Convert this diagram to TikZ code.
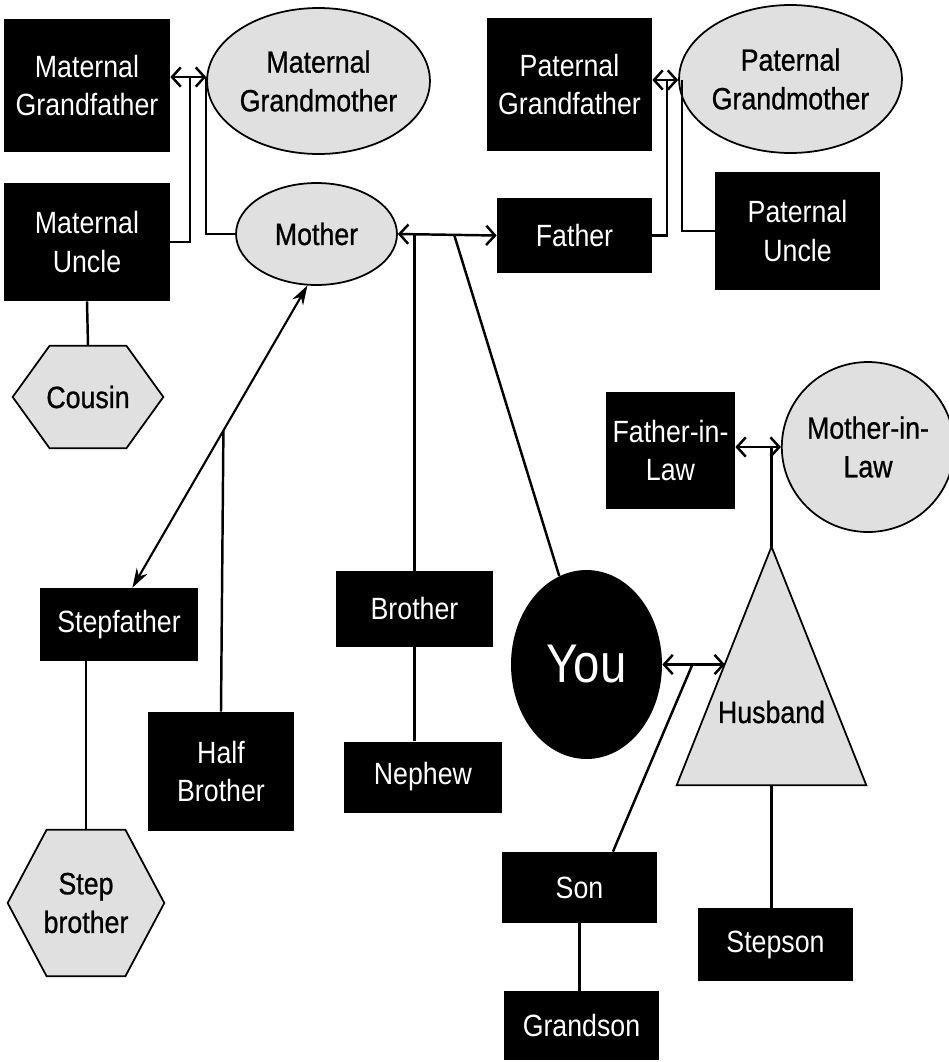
\documentclass[tikz,border=0pt]{standalone}
\usepackage{fontspec}
\setmainfont{Liberation Sans}[FakeStretch=0.87]
\newfontfamily\heavyfont{Liberation Sans}[FakeStretch=0.87, FakeBold=0.8]
\usetikzlibrary{shapes.geometric,arrows.meta,backgrounds}

\newcommand{\famfont}{\fontsize{17.5pt}{22pt}\selectfont}

\tikzset{
    box/.style={fill=black, text=white, align=center, inner sep=0pt, font=\famfont},
    oval/.style={ellipse, draw=black, line width=1pt, fill=black!12, align=center, inner sep=0pt, font=\heavyfont\famfont},
    hexbox/.style={align=center, inner sep=0pt, font=\heavyfont\famfont},
    grayfill/.style={draw=black, line width=1pt, fill=black!12},
    link/.style={line width=1.4pt},
    pair/.style={link, {Straight Barb[length=5pt,width=11pt]}-{Straight Barb[length=5pt,width=11pt]}},
    steparrow/.style={line width=1.2pt, {Stealth[length=11pt,width=7pt]}-{Stealth[length=11pt,width=7pt]}}
}

\begin{document}
\begin{tikzpicture}[x=0.02cm, y=-0.02cm]
    \useasboundingbox (0,0) rectangle (949,1062);

    % Maternal side
    \node[box, minimum width=3.32cm, minimum height=2.66cm] (mgf) at (87,85.5) {Maternal\\Grandfather};
    \node[oval, minimum width=3.66cm, minimum height=2.92cm] (mgm) at (318.5,81) {Maternal\\Grandmother};
    \node[box, minimum width=3.32cm, minimum height=2.36cm] (mu) at (87,242) {Maternal\\Uncle};
    \node[oval, minimum width=3.22cm, minimum height=2.04cm] (mother) at (316.5,234) {Mother};
    \node[hexbox, minimum width=3cm, minimum height=2.04cm] (cousin) at (88,397) {Cousin};

    % Paternal side
    \node[box, minimum width=3.30cm, minimum height=2.66cm] (pgf) at (569.5,84.5) {Paternal\\Grandfather};
    \node[oval, minimum width=3.70cm, minimum height=2.96cm] (pgm) at (790.5,79) {Paternal\\Grandmother};
    \node[box, minimum width=3.10cm, minimum height=1.50cm] (father) at (574.5,235.5) {Father};
    \node[box, minimum width=3.30cm, minimum height=2.36cm] (pu) at (797.5,231) {Paternal\\Uncle};

    % Siblings and step family
    \node[box, minimum width=3.14cm, minimum height=1.52cm] (bro) at (414.5,609) {Brother};
    \node[box, minimum width=3.16cm, minimum height=1.42cm] (neph) at (423,777) {Nephew};
    \node[box, minimum width=3.16cm, minimum height=1.46cm] (stepf) at (119,624.5) {Stepfather};
    \node[box, minimum width=2.92cm, minimum height=2.38cm] (halfbro) at (221,771.5) {Half\\Brother};
    \node[hexbox, minimum width=3.12cm, minimum height=2.92cm] (stepbro) at (86,903) {Step\\brother};

    % You and husband
    \node[ellipse, fill=black, text=white, inner sep=0pt, minimum width=3.02cm, minimum height=3.78cm, font=\fontsize{31pt}{36pt}\selectfont] (you) at (586.5,664.5) {You};
    \node[inner sep=0pt, minimum width=3.78cm, minimum height=4.76cm] (husb) at (771.5,666) {};
    \node[hexbox] (husbtext) at (771.5,712) {Husband};
    \node[box, minimum width=3.10cm, minimum height=1.42cm] (son) at (579.5,887.5) {Son};
    \node[box, minimum width=3.10cm, minimum height=1.38cm] (gson) at (581.5,1025.5) {Grandson};
    \node[box, minimum width=2.58cm, minimum height=2.34cm] (fil) at (670.5,450.5) {Father-in-\\Law};
    \node[oval, minimum width=3.00cm, minimum height=3.40cm] (mil) at (868,447) {Mother-in-\\Law};
    \node[box, minimum width=3.10cm, minimum height=1.46cm] (stepson) at (775.5,944.5) {Stepson};

    % Hexagons and triangle
    \begin{scope}[on background layer]
        \filldraw[grayfill] (cousin.west) -- ([xshift=0.74cm]cousin.north west) -- ([xshift=-0.74cm]cousin.north east)
            -- (cousin.east) -- ([xshift=-0.74cm]cousin.south east) -- ([xshift=0.74cm]cousin.south west) -- cycle;
        \filldraw[grayfill] (stepbro.west) -- ([xshift=0.78cm]stepbro.north west) -- ([xshift=-0.78cm]stepbro.north east)
            -- (stepbro.east) -- ([xshift=-0.78cm]stepbro.south east) -- ([xshift=0.78cm]stepbro.south west) -- cycle;
        \filldraw[grayfill] (husb.north) -- (husb.south east) -- (husb.south west) -- cycle;
    \end{scope}

    % Grandparents
    \coordinate (mj1) at (190,77);
    \coordinate (mj2) at (206,77);
    \draw[pair] (mgf.east |- mj1) -- (mgm.west |- mj1);
    \draw[link] (mj1) |- (mu.east);
    \draw[link] (mj2) |- (mother.west);
    \draw[link] (mu.south) -- (cousin.north);

    \coordinate (pj1) at (667,80);
    \coordinate (pj2) at (682,80);
    \draw[pair] (pgf.east |- pj1) -- (pgm.west |- pj1);
    \draw[link] (pj1) |- (father.east);
    \draw[link] (pj2) |- (pu.west);

    % Parents
    \draw[pair] (mother.east) -- coordinate[pos=0.57] (yj) (father.west);
    \draw[link] (bro.north) -- (bro.north |- mother.east);
    \draw[link] (yj) -- (you);
    \draw[link] (bro.south) -- (bro.south |- neph.north);

    % Stepfather
    \draw[steparrow] (mother.260) -- coordinate[pos=0.48] (hj) (stepf.70);
    \draw[link] (hj) -- (halfbro.north);
    \draw[link] (stepbro.north |- stepf.south) -- (stepbro.north);

    % In-laws
    \draw[pair] (fil.east |- mil.west) -- (mil.west);
    \draw[link] (husb.north) -- (husb.north |- mil.west);
    \coordinate (husbl) at (725,664.5);
    \draw[pair] (you.east) -- coordinate[pos=0.48] (sj) (husbl);
    \draw[link] (sj) -- (son.47);
    \draw[link] (son.south) -- (son.south |- gson.north);
    \draw[link] (husb.south) -- (husb.south |- stepson.north);
\end{tikzpicture}
\end{document}
